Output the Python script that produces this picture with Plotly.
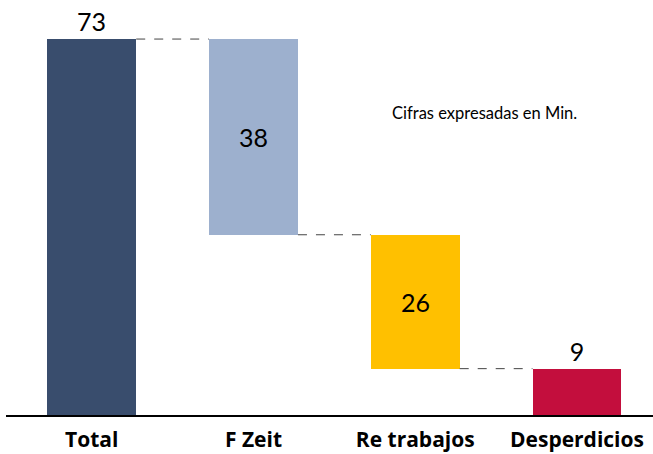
import plotly.graph_objects as go

categories = ["Total", "F Zeit", "Re trabajos", "Desperdicios"]
values = [73, 38, 26, 9]
colors = ["#394D6D", "#9DB0CE", "#FFC000", "#C30E3D"]
text_positions = ["outside", "inside", "inside", "outside"]
note = "Cifras expresadas en Min."

# bar bottoms: total starts at 0, each step hangs from the previous level
bases = [0]
level = values[0]
for v in values[1:]:
    level -= v
    bases.append(level)
tops = [b + v for b, v in zip(bases, values)]

bar_w = 0.55
fig = go.Figure(go.Bar(
    x=list(range(len(categories))), y=values, base=bases,
    marker=dict(color=colors, line=dict(width=0)),
    width=bar_w,
    text=[str(v) for v in values], textposition=text_positions,
    insidetextanchor="middle",
    textfont=dict(family="Lato, Open Sans, sans-serif", size=25, color="black"),
    cliponaxis=False,
))

shapes = []
for i in range(len(values) - 1):
    lvl = bases[i] if i > 0 else tops[0]
    shapes.append(dict(type="line", xref="x", yref="y",
                       x0=i + bar_w / 2, x1=i + 1 - bar_w / 2, y0=lvl, y1=lvl,
                       line=dict(color="#444444", width=1, dash="dash")))

fig.update_layout(
    width=653, height=454,
    margin=dict(l=6, r=0, t=3, b=39),
    plot_bgcolor="white", paper_bgcolor="white",
    showlegend=False, shapes=shapes,
    xaxis=dict(range=[-0.53, 3.47], tickvals=list(range(len(categories))),
               ticktext=categories, showgrid=False, zeroline=False,
               showline=True, linecolor="black", linewidth=2,
               ticks="", ticklabelstandoff=5,
               tickfont=dict(family="Open Sans, Lato, sans-serif", size=21,
                             color="black", weight="bold")),
    yaxis=dict(range=[0, 80], visible=False),
    annotations=[dict(x=0.739, y=0.733, xref="paper", yref="paper",
                      xanchor="center", yanchor="middle",
                      text=note, showarrow=False,
                      font=dict(family="Lato, Open Sans, sans-serif", size=16.5, color="black"))],
    bargap=0,
)

fig.write_html("out.html", post_script="document.body.style.margin='0';",
               config={"displayModeBar": False})
